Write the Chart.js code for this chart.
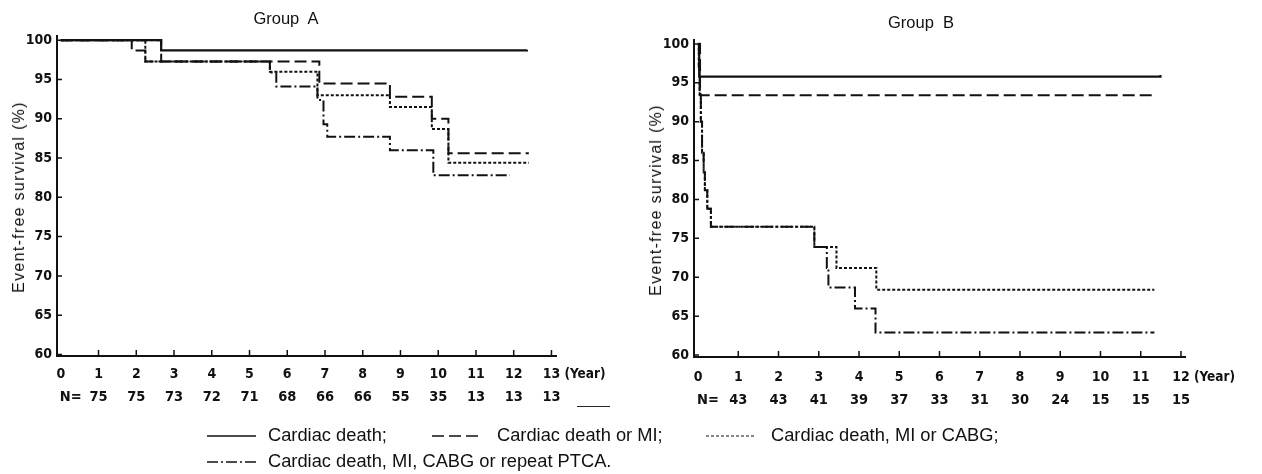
<!DOCTYPE html>
<html>
<head>
<meta charset="utf-8">
<script src="https://cdn.jsdelivr.net/npm/chart.js@4.4.1/dist/chart.umd.min.js"></script>
<style>
  body { margin: 0; background: #fff; width: 1262px; height: 474px; position: relative; overflow: hidden;
         font-family: "Liberation Sans", Arial, sans-serif; color: #111; }
  .panel { position: absolute; top: 0; width: 631px; height: 474px; }
  .gtitle { position: absolute; font-size: 16.5px; white-space: pre; transform: translateX(-50%); }
  .ytitle { position: absolute; font-size: 16px; letter-spacing: 1.3px; white-space: nowrap;
            transform: translate(-50%, -50%) rotate(-90deg); }
  .lg { position: absolute; }
  .lgtext { position: absolute; font-size: 18.3px; white-space: nowrap; }
  .stray { position: absolute; left: 577px; top: 406px; width: 33px; border-top: 1.5px solid #222; }
</style>
</head>
<body>
<div class="panel" style="left:0"><canvas id="chartA" width="631" height="474"></canvas></div>
<div class="panel" style="left:631px"><canvas id="chartB" width="631" height="474"></canvas></div>
<div class="gtitle" style="left:286px;top:9px">Group  A</div>
<div class="gtitle" style="left:921px;top:13px">Group  B</div>
<div class="ytitle" style="left:19px;top:197px">Event-free survival (%)</div>
<div class="ytitle" style="left:656px;top:200px">Event-free survival (%)</div>
<div class="stray"></div>
<div id="legend"></div>
<script>
// ---- data ----
const seriesNames = ['Cardiac death;', 'Cardiac death or MI;', 'Cardiac death, MI or CABG;',
                     'Cardiac death, MI, CABG or repeat PTCA.'];
const survivalTicks = [60, 65, 70, 75, 80, 85, 90, 95, 100];

const yearTicksA = [0, 1, 2, 3, 4, 5, 6, 7, 8, 9, 10, 11, 12, 13];
const countsA = [75, 75, 73, 72, 71, 68, 66, 66, 55, 35, 13, 13, 13];

const yearTicksB = [0, 1, 2, 3, 4, 5, 6, 7, 8, 9, 10, 11, 12];
const countsB = [43, 43, 41, 39, 37, 33, 31, 30, 24, 15, 15, 15];

// Group A curves (time in years, survival in %)
const aDeathT = [0, 2.66, 12.35];
const aDeathS = [100, 98.7, 98.8];
const aMiT = [0, 1.88, 2.24, 6.85, 8.72, 9.83, 10.27, 12.4];
const aMiS = [100, 98.7, 97.3, 94.5, 92.8, 90.0, 85.6, 85.6];
const aCabgT = [0, 2.24, 5.54, 6.8, 8.72, 9.83, 10.27, 12.4];
const aCabgS = [100, 97.3, 96.0, 93.0, 91.5, 88.7, 84.4, 84.4];
const aPtcaT = [0, 2.66, 5.54, 5.71, 6.8, 6.96, 7.06, 8.72, 9.87, 11.9];
const aPtcaS = [100, 97.3, 95.9, 94.1, 92.4, 89.3, 87.7, 86.0, 82.8, 82.8];

// Group B curves
const bDeathT = [0, 0.03, 11.49];
const bDeathS = [100, 95.8, 96.0];
const bMiT = [0, 0.05, 11.33];
const bMiS = [100, 93.4, 93.5];
const bCabgT = [0, 0.02, 0.04, 0.07, 0.1, 0.14, 0.17, 0.23, 0.32, 2.89, 3.44, 4.43, 11.34];
const bCabgS = [100, 97, 93.5, 90, 86, 83.5, 81.2, 78.8, 76.5, 73.9, 71.2, 68.4, 68.4];
const bPtcaT = [0, 0.02, 0.04, 0.07, 0.1, 0.14, 0.17, 0.23, 0.32, 2.89, 3.2, 3.24, 3.9, 4.41, 11.34];
const bPtcaS = [100, 97, 93.5, 90, 86, 83.5, 81.2, 78.8, 76.5, 73.9, 71.2, 68.7, 66.0, 62.9, 62.9];

// ---- styling ----
const INK = '#111';
const DASHES = [[], [12, 5], [3, 2], [11, 3, 2, 3]];
const NARROW = '"Liberation Sans Narrow", "DejaVu Sans Condensed", sans-serif';
const tickFont = { family: NARROW, size: 14, weight: 'bold' };

const pts = (t, s) => t.map((v, i) => ({ x: v, y: s[i] }));

function series(t, s, i) {
  return {
    label: seriesNames[i],
    data: pts(t, s),
    borderColor: INK,
    borderWidth: i === 0 ? 2.2 : 2,
    borderDash: DASHES[i],
    stepped: 'before',   // horizontal first, then the drop (Kaplan-Meier)
    pointRadius: 0,
    fill: false,
  };
}

// inward tick marks, N= row and the "(Year)" unit label
const kmExtras = {
  id: 'kmExtras',
  afterDraw(chart, args, opts) {
    const { ctx, chartArea: a, scales: { x, y } } = chart;
    ctx.save();
    ctx.strokeStyle = INK;
    ctx.lineWidth = 1.5;
    ctx.beginPath();
    x.ticks.forEach(t => {
      if (t.value === 0) return;
      const px = x.getPixelForValue(t.value);
      ctx.moveTo(px, a.bottom); ctx.lineTo(px, a.bottom - 6);
    });
    y.ticks.forEach(t => {
      const py = y.getPixelForValue(t.value);
      ctx.moveTo(a.left, py); ctx.lineTo(a.left + 5, py);
    });
    ctx.stroke();

    ctx.fillStyle = INK;
    ctx.font = `bold 14.5px ${NARROW}`;
    ctx.textBaseline = 'middle';
    ctx.textAlign = 'left';
    ctx.fillText('N=', x.getPixelForValue(0) - 1, a.bottom + opts.nRow);
    ctx.textAlign = 'center';
    opts.counts.forEach((n, i) => ctx.fillText(String(n), x.getPixelForValue(i + 1), a.bottom + opts.nRow));

    const last = opts.years[opts.years.length - 1];
    ctx.font = `bold 13.5px ${NARROW}`;
    ctx.textAlign = 'left';
    ctx.fillText('(Year)', x.getPixelForValue(last) + 13, a.bottom + opts.yearRow);
    ctx.restore();
  }
};

function makePanel(id, cfg) {
  return new Chart(document.getElementById(id), {
    type: 'line',
    data: { datasets: cfg.datasets },
    plugins: [kmExtras],
    options: {
      responsive: false,
      animation: false,
      events: [],
      layout: { padding: { left: 0, top: cfg.top, right: cfg.right, bottom: cfg.bottom } },
      plugins: {
        legend: { display: false },
        tooltip: { enabled: false },
        kmExtras: { counts: cfg.counts, years: cfg.years, nRow: cfg.nRow, yearRow: cfg.yearRow },
      },
      scales: {
        x: {
          type: 'linear',
          min: cfg.xMin, max: cfg.xMax,
          afterBuildTicks: s => { s.ticks = cfg.years.map(v => ({ value: v })); },
          afterFit: s => { s.height = 30; },
          grid: { display: false, drawTicks: false },
          border: { display: true, color: INK, width: 2 },
          ticks: { color: INK, font: tickFont, padding: cfg.tickPad, maxRotation: 0, autoSkip: false },
        },
        y: {
          min: cfg.yMin, max: cfg.yMax,
          afterBuildTicks: s => { s.ticks = survivalTicks.map(v => ({ value: v })); },
          afterFit: s => { s.width = cfg.yWidth; },
          grid: { display: false, drawTicks: false },
          border: { display: true, color: INK, width: 2 },
          ticks: { color: INK, font: tickFont, padding: 5 },
        },
      },
    },
  });
}

makePanel('chartA', {
  datasets: [series(aDeathT, aDeathS, 0), series(aMiT, aMiS, 1), series(aCabgT, aCabgS, 2), series(aPtcaT, aPtcaS, 3)],
  counts: countsA, years: yearTicksA,
  xMin: -0.1, xMax: 13.12, yMin: 59.8, yMax: 100.6,
  top: 35.5, right: 75, bottom: 88, yWidth: 57, tickPad: 10, nRow: 41, yearRow: 18,
});

makePanel('chartB', {
  datasets: [series(bDeathT, bDeathS, 0), series(bMiT, bMiS, 1), series(bCabgT, bCabgS, 2), series(bPtcaT, bPtcaS, 3)],
  counts: countsB, years: yearTicksB,
  xMin: -0.1, xMax: 12.1, yMin: 59.75, yMax: 100.5,
  top: 40, right: 77, bottom: 87, yWidth: 63, tickPad: 12, nRow: 43, yearRow: 20,
});

// legend (two rows below the panels)
const legendPos = [[207, 268, 436], [432, 497, 436], [706, 771, 436], [207, 268, 462]];
const legend = document.getElementById('legend');
seriesNames.forEach((name, i) => {
  const [lx, tx, ly] = legendPos[i];
  const dash = DASHES[i].join(',');
  legend.insertAdjacentHTML('beforeend',
    `<svg class="lg" style="left:${lx}px;top:${ly - 6}px" width="50" height="12">` +
    `<line x1="0" y1="6" x2="49" y2="6" stroke="${INK}" stroke-width="${i === 2 ? 1.2 : 1.5}"` +
    (dash ? ` stroke-dasharray="${dash}"` : '') + `/></svg>` +
    `<div class="lgtext" style="left:${tx}px;top:${ly - 12}px">${name}</div>`);
});
</script>
</body>
</html>
